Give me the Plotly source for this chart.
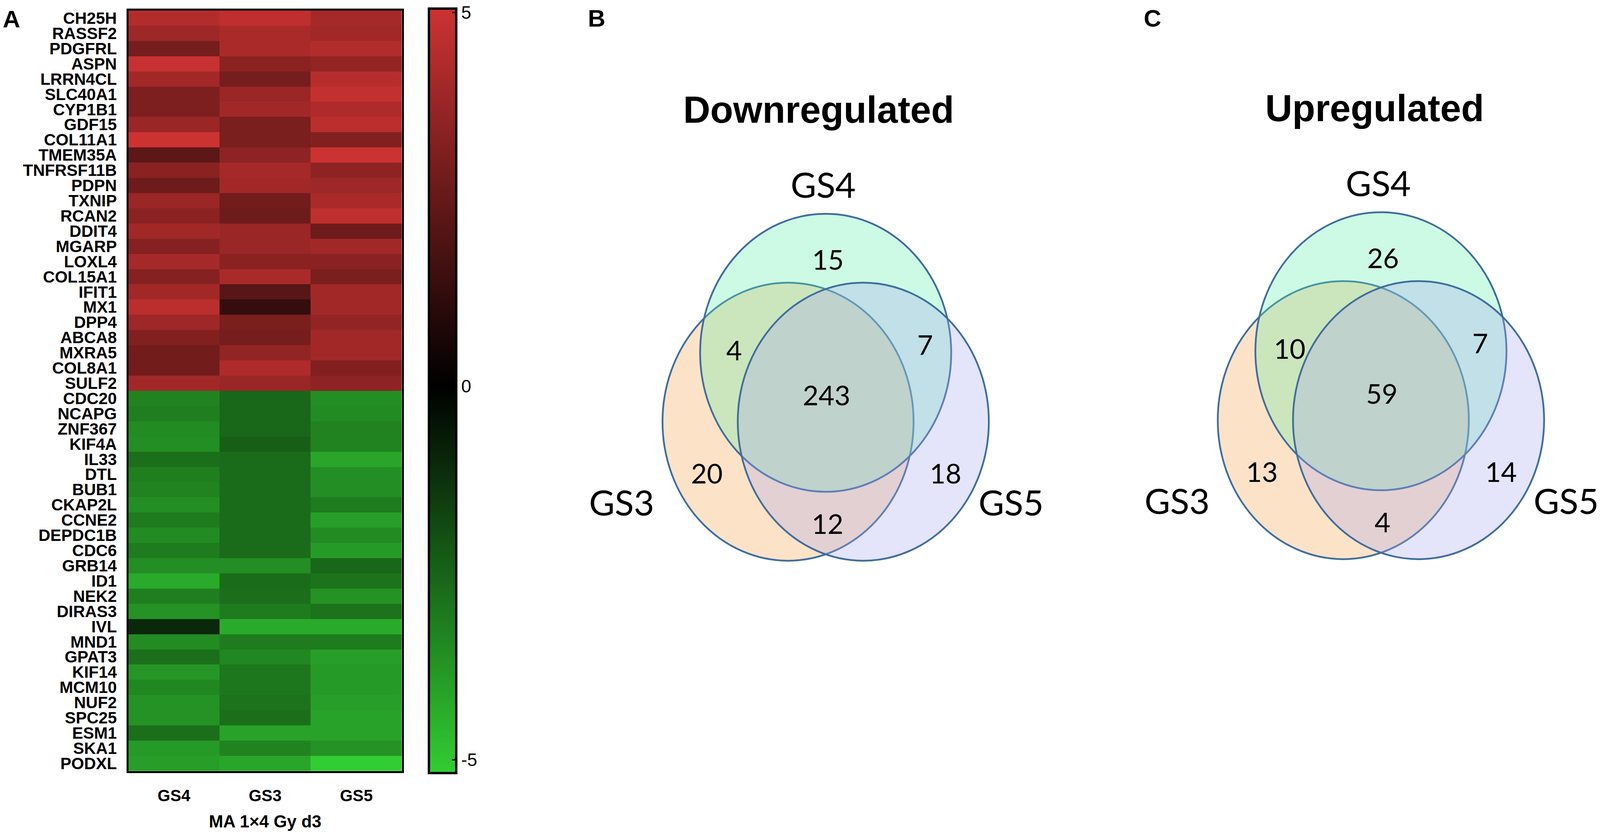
import plotly.graph_objects as go

# ---------------- data ----------------
groups = ["GS4", "GS3", "GS5"]

genes_up = ["CH25H", "RASSF2", "PDGFRL", "ASPN", "LRRN4CL", "SLC40A1", "CYP1B1", "GDF15",
            "COL11A1", "TMEM35A", "TNFRSF11B", "PDPN", "TXNIP", "RCAN2", "DDIT4", "MGARP",
            "LOXL4", "COL15A1", "IFIT1", "MX1", "DPP4", "ABCA8", "MXRA5", "COL8A1", "SULF2"]
genes_down = ["CDC20", "NCAPG", "ZNF367", "KIF4A", "IL33", "DTL", "BUB1", "CKAP2L", "CCNE2",
              "DEPDC1B", "CDC6", "GRB14", "ID1", "NEK2", "DIRAS3", "IVL", "MND1", "GPAT3",
              "KIF14", "MCM10", "NUF2", "SPC25", "ESM1", "SKA1", "PODXL"]

gs4_up = [4.4, 3.9, 2.9, 4.9, 4.0, 3.1, 3.1, 3.8, 5.05, 2.3, 3.4, 2.7, 3.8, 3.4, 4.0, 3.3,
          4.1, 3.3, 4.0, 4.6, 3.9, 3.2, 2.8, 2.8, 4.0]
gs3_up = [4.7, 4.2, 4.2, 3.4, 2.9, 3.8, 4.0, 3.0, 3.0, 3.5, 4.1, 4.0, 2.8, 2.7, 3.8, 3.8,
          3.4, 4.2, 2.2, 1.3, 3.0, 2.9, 3.6, 4.3, 3.8]
gs5_up = [4.1, 4.0, 4.4, 3.6, 4.5, 4.8, 4.3, 4.6, 3.2, 5.0, 3.5, 3.9, 4.2, 4.7, 2.7, 4.0,
          3.4, 3.0, 4.0, 4.0, 3.6, 4.0, 4.0, 3.2, 3.5]

gs4_down = [-3.3, -3.2, -3.5, -3.6, -2.8, -3.2, -3.3, -3.6, -3.1, -3.5, -3.1, -3.6, -4.3,
            -3.2, -3.7, -1.0, -3.5, -2.8, -3.8, -3.4, -3.7, -3.7, -2.8, -3.9, -4.0]
gs3_down = [-2.6, -2.6, -2.6, -2.4, -2.7, -2.7, -2.7, -2.7, -2.7, -2.7, -2.7, -3.6, -2.7,
            -2.8, -3.1, -4.3, -3.1, -3.4, -3.0, -3.0, -2.9, -2.8, -4.1, -3.3, -4.2]
gs5_down = [-3.6, -3.5, -3.3, -3.3, -4.2, -3.6, -3.6, -3.1, -4.0, -3.5, -3.9, -2.6, -2.9,
            -3.7, -2.9, -4.3, -3.1, -4.0, -3.9, -3.9, -4.0, -4.1, -4.1, -3.7, -5.18]

color_min = -5.18
color_max = 5.05
color_ticks = [5, 0, -5]
color_ticktext = ["5", "0", "-5"]

venn_labels = ["GS4", "GS3", "GS5"]
region_keys = ["GS4 only", "GS3 only", "GS5 only", "GS4&GS3", "GS4&GS5", "GS3&GS5", "all"]
down_counts = [15, 20, 18, 4, 7, 12, 243]
up_counts = [26, 13, 14, 10, 7, 4, 59]

# ---------------- layout constants (reference pixels) ----------------
W, H = 4550, 2139

genes = genes_up + genes_down
z = [[a, b, c] for a, b, c in zip(gs4_up + gs4_down, gs3_up + gs3_down, gs5_up + gs5_down)]

zero_frac = (0 - color_min) / (color_max - color_min)
colorscale = [[0.0, "rgb(50,205,50)"], [zero_frac, "rgb(0,0,0)"], [1.0, "rgb(205,50,50)"]]

hm_x0, hm_x1, hm_y0, hm_y1 = 365, 1143, 23, 1976

fig = go.Figure()
fig.add_trace(go.Heatmap(
    z=z, x=groups, y=genes, colorscale=colorscale, zmin=color_min, zmax=color_max,
    colorbar=dict(
        x=1220 / W, xanchor="left", xpad=0,
        y=1 - 1000 / H, yanchor="middle", ypad=0,
        lenmode="pixels", len=1956, thickness=70,
        outlinewidth=6, outlinecolor="black",
        tickmode="array", tickvals=color_ticks, ticktext=color_ticktext,
        ticks="inside", ticklen=14, tickwidth=4, tickcolor="black",
        tickfont=dict(family="Liberation Sans, Arial", size=46, color="black"),
    ),
))

bold_font = dict(family="Liberation Sans, Arial", size=42, color="black", weight="bold")

fig.update_layout(
    height=H, autosize=True, margin=dict(l=0, r=0, t=0, b=0, pad=0),
    paper_bgcolor="white", plot_bgcolor="rgba(0,0,0,0)", showlegend=False,
    xaxis=dict(domain=[hm_x0 / W, hm_x1 / W], showline=True, linewidth=5, linecolor="black",
               mirror=True, ticks="", tickfont=bold_font, ticklabelstandoff=22,
               tickmode="array", tickvals=groups, ticktext=groups,
               showgrid=False, zeroline=False, fixedrange=True,
               title=dict(text="MA 1×4 Gy d3", font=dict(family="Liberation Sans, Arial", size=44,
                                                         color="black", weight="bold"), standoff=30)),
    yaxis=dict(domain=[1 - hm_y1 / H, 1 - hm_y0 / H], autorange="reversed", showline=True,
               linewidth=5, linecolor="black", mirror=True, ticks="", tickfont=bold_font,
               tickmode="array", tickvals=genes, ticktext=genes,
               ticklabelstandoff=16, showgrid=False, zeroline=False, fixedrange=True),
    xaxis2=dict(domain=[0, 1], range=[0, W], visible=False, fixedrange=True),
    yaxis2=dict(domain=[0, 1], range=[H, 0], visible=False, fixedrange=True),
)
fig.add_trace(go.Scatter(x=[0], y=[0], xaxis="x2", yaxis="y2", mode="markers",
                         marker=dict(opacity=0), hoverinfo="skip"))

# ---------------- Venn diagrams ----------------
R = 357
circle_offsets = {"GS4": (0, 0), "GS3": (-107, 177), "GS5": (107, 177)}
circle_fill = {"GS3": "rgba(245,162,72,0.30)", "GS4": "rgba(88,238,165,0.30)",
               "GS5": "rgba(165,165,238,0.30)"}
line_color = "#3f6d9e"
region_offsets = {"GS4 only": (6, -241), "GS3 only": (-338, 309), "GS5 only": (341, 309),
                  "GS4&GS3": (-260, -8), "GS4&GS5": (283, -22), "GS3&GS5": (5, 438),
                  "all": (3, 108)}
set_label_offsets = {"GS4": (-7, -433), "GS3": (-580, 383), "GS5": (527, 383)}

panels = [
    {"letter": "B", "letter_xy": (1697, 43), "title": "Downregulated", "cx": 2348, "cy": 902,
     "counts": down_counts, "title_dx": -20},
    {"letter": "C", "letter_xy": (3278, 43), "title": "Upregulated", "cx": 3927, "cy": 898,
     "counts": up_counts, "title_dx": -18},
]

shapes = []
annotations = []
for p in panels:
    for name in ["GS3", "GS4", "GS5"]:
        dx, dy = circle_offsets[name]
        cx, cy = p["cx"] + dx, p["cy"] + dy
        shapes.append(dict(type="circle", xref="x2", yref="y2", x0=cx - R, x1=cx + R,
                           y0=cy - R, y1=cy + R, fillcolor=circle_fill[name],
                           line=dict(color=line_color, width=4.5), layer="above"))
    for key, cnt in zip(region_keys, p["counts"]):
        dx, dy = region_offsets[key]
        annotations.append(dict(x=p["cx"] + dx, y=p["cy"] + dy, xref="x2", yref="y2",
                                text=str(cnt), showarrow=False,
                                font=dict(family="Lato, Open Sans", size=70, color="black")))
    for name in venn_labels:
        dx, dy = set_label_offsets[name]
        annotations.append(dict(x=p["cx"] + dx, y=p["cy"] + dy, xref="x2", yref="y2",
                                text=name, showarrow=False,
                                font=dict(family="Lato, Open Sans", size=90, color="black")))
    annotations.append(dict(x=p["cx"] + p["title_dx"], y=p["cy"] - 624, xref="x2", yref="y2",
                            text=p["title"], showarrow=False,
                            font=dict(family="Liberation Sans, Arial", size=96, color="black",
                                      weight="bold")))
    annotations.append(dict(x=p["letter_xy"][0], y=p["letter_xy"][1], xref="x2", yref="y2",
                            text=p["letter"], showarrow=False,
                            font=dict(family="Liberation Sans, Arial", size=62, color="black",
                                      weight="bold")))

annotations.append(dict(x=33, y=45, xref="x2", yref="y2", text="A", showarrow=False,
                        font=dict(family="Liberation Sans, Arial", size=62, color="black",
                                  weight="bold")))

fig.update_layout(shapes=shapes, annotations=annotations)

fig.write_html(
    "out.html",
    default_width="100%",
    default_height=f"{H}px",
    config={"displayModeBar": False},
    post_script=("document.body.style.margin='0';document.body.style.overflow='hidden';"
                 "Plotly.Plots.resize(document.getElementById('{plot_id}'));"),
)
